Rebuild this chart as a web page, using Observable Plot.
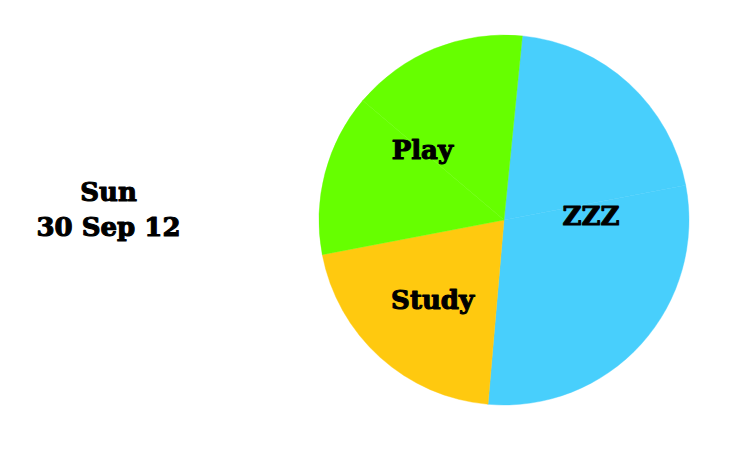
<!DOCTYPE html>
<html>
<head>
<meta charset="utf-8">
<script src="https://cdn.jsdelivr.net/npm/d3@7"></script>
<script src="https://cdn.jsdelivr.net/npm/@observablehq/plot@0.6"></script>
<style>
  html, body { margin: 0; padding: 0; background: #fff; }
  svg { display: block; }
</style>
</head>
<body>
<div id="chart"></div>
<script>
// ---- data (hours of the day) ----
const sliceCategories = ["ZZZ", "ZZZ", "Study", "Play", "Play"];
const sliceHours      = [4.9, 7.05, 4.95, 3.4, 3.7];
const categories      = ["ZZZ", "Study", "Play"];
const dayLabel        = "Sun";
const dateLabel       = "30 Sep 12";

// ---- styling / layout ----
const colors = { ZZZ: "#48cffc", Study: "#ffc90f", Play: "#66ff00" };
const labelRadiusFactor = { ZZZ: 0.47, Study: 0.58, Play: 0.58 };
const labelDy = { ZZZ: -12, Study: 1, Play: 3 };
const labelDx = { ZZZ: 0, Study: 0, Play: -3 };
const W = 734, H = 456;
const cx = 504, cy = 220, R = 185;
const startAngle = 5.7 * Math.PI / 180;
const font = "'DejaVu Serif', serif";
const fontSize = 26;

const slices = sliceCategories.map((c, i) => ({ category: c, hours: sliceHours[i], order: i }));
const pie = d3.pie().value(d => d.hours).sort(null)
  .startAngle(startAngle).endAngle(startAngle + 2 * Math.PI);
const arcs = pie(slices);

// combined angular span per category for label placement
const labels = categories.map(c => {
  const a = arcs.filter(d => d.data.category === c);
  const s = d3.min(a, d => d.startAngle), e = d3.max(a, d => d.endAngle);
  const m = (s + e) / 2, r = R * labelRadiusFactor[c];
  return { label: c, x: cx + r * Math.sin(m) + labelDx[c], y: cy - r * Math.cos(m) + labelDy[c] };
});

const pieMark = (index, scales) => {
  const g = d3.create("svg:g");
  const arc = d3.arc().innerRadius(0).outerRadius(scales.x(R) - scales.x(0));
  g.selectAll("path").data(arcs).join("path")
    .attr("transform", `translate(${scales.x(cx)},${scales.y(cy)})`)
    .attr("d", arc)
    .attr("fill", d => colors[d.data.category])
    .attr("stroke", d => colors[d.data.category])
    .attr("stroke-width", 0.4);
  return g.node();
};

const textOpts = {
  fontSize, fontWeight: "bold", fill: "#000", fontFamily: font,
  stroke: "#000", strokeWidth: 1.1
};

const chart = Plot.plot({
  width: W, height: H,
  margin: 0,
  x: { domain: [0, W], range: [0, W], axis: null },
  y: { domain: [0, H], range: [0, H], axis: null },
  style: { background: "#fff", fontFamily: font },
  marks: [
    pieMark,
    Plot.text(labels, { x: "x", y: "y", text: "label", ...textOpts }),
    Plot.text([`${dayLabel}\n${dateLabel}`], {
      x: () => 108, y: () => 207, lineHeight: 1.35, ...textOpts
    })
  ]
});
document.getElementById("chart").append(chart);
</script>
</body>
</html>
